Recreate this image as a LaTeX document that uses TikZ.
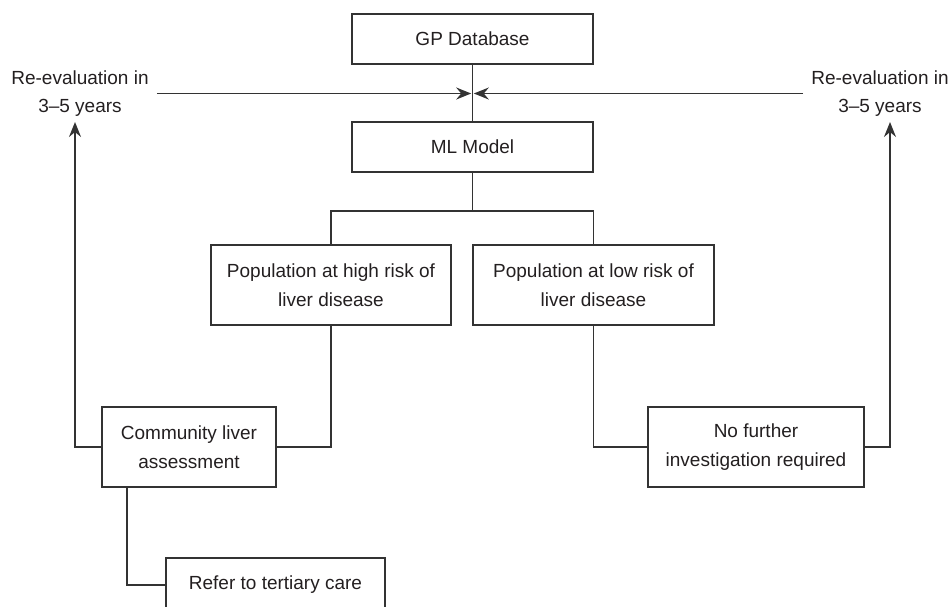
\documentclass[tikz,border=0pt]{standalone}
\usepackage{fontspec}
\setmainfont{Liberation Sans}
\usetikzlibrary{arrows.meta}
\definecolor{ink}{HTML}{231F20}
\definecolor{linec}{HTML}{333333}
\begin{document}
\begin{tikzpicture}[x=1pt,y=-1pt,
  every node/.style={text=ink,font=\fontsize{19}{29.5}\selectfont},
  box/.style={draw=linec,line width=1.5pt,align=center,inner sep=0pt,minimum height=#1},
  box/.default=50pt,
  lbl/.style={align=center,inner sep=8pt,font=\fontsize{19}{27.5}\selectfont},
  conn/.style={draw=linec,line width=1.5pt},
  arr/.style={conn,-{Stealth[length=15pt,width=12pt,inset=5pt]}}]
\useasboundingbox (0,0) rectangle (950,606);
\clip (0,0) rectangle (950,606);
% boxes
\node[box,minimum width=241pt] (gp) at (472.5,39) {GP Database};
\node[box,minimum width=241pt] (ml) at (472.5,147) {ML Model};
\node[box=80pt,minimum width=240pt] (high) at (331,285) {Population at high risk of\\liver disease};
\node[box=80pt,minimum width=241pt] (low) at (593.5,285) {Population at low risk of\\liver disease};
\node[box=80pt,minimum width=174pt] (comm) at (189,447) {Community liver\\assessment};
\node[box=80pt,minimum width=216pt] (nof) at (756,447) {No further\\investigation required};
\node[box=54pt,minimum width=219pt] (ref) at (275.5,585) {Refer to tertiary care};
% labels
\node[lbl] (labL) at (80,93.5) {Re-evaluation in\\3–5 years};
\node[lbl] (labR) at (880,93.5) {Re-evaluation in\\3–5 years};
% coordinates
\coordinate (cl) at (471.2,93.5);
\coordinate (cr) at (473.8,93.5);
\coordinate (upL) at (75,122);
\coordinate (upR) at (890,122);
\coordinate (br) at (472.5,211);
% connectors
\draw[conn] (gp.south) -- (ml.north);
\draw[arr] (labL.east) -- (cl);
\draw[arr] (labR.west) -- (cr);
\draw[conn] (ml.south) -- (br);
\draw[conn] (high.north) |- (br) -| (low.north);
\draw[conn] (high.south) |- (comm.east);
\draw[conn] (low.south) |- (nof.west);
\draw[arr] (comm.west) -| (upL);
\draw[arr] (nof.east) -| (upR);
\draw[conn] ([xshift=-62pt]comm.south) |- (ref.west);
\end{tikzpicture}
\end{document}
